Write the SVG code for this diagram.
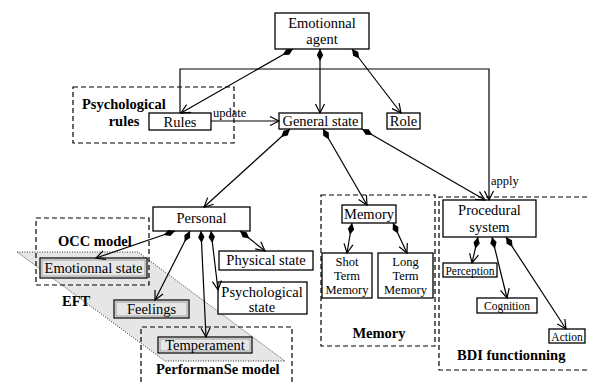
<svg xmlns="http://www.w3.org/2000/svg" width="589" height="382" viewBox="0 0 589 382" font-family="'Liberation Serif', 'Times New Roman', 'DejaVu Serif', serif">
<style>
text{font-family:'Liberation Serif','Times New Roman','DejaVu Serif',serif;fill:#000}
.n{font-size:14.5px;text-anchor:middle}
.s{font-size:12.5px;text-anchor:middle}
.xs{font-size:11.5px;text-anchor:middle}
.b{font-size:14.5px;font-weight:bold}
.lbl{font-size:12.5px}
.box{fill:#fff;stroke:#000;stroke-width:1.3}
.gbox{fill:#e6e6e6;stroke:#000;stroke-width:1.2}
.inner{fill:none;stroke:#777;stroke-width:0.6}
.grp{fill:none;stroke:#000;stroke-width:1.2;stroke-dasharray:5,3}
.c{fill:none;stroke:#000;stroke-width:1.2;marker-start:url(#dia);marker-end:url(#arr)}
.a{fill:none;stroke:#000;stroke-width:1.2;marker-end:url(#arr)}
</style>
<defs>
<marker id="dia" markerUnits="userSpaceOnUse" markerWidth="16" markerHeight="10" viewBox="-1 -5 16 10" refX="0" refY="0" orient="auto">
<path d="M0,0 L6,-3.2 L12,0 L6,3.2 Z" fill="#000"/>
</marker>
<marker id="arr" markerUnits="userSpaceOnUse" markerWidth="14" markerHeight="12" viewBox="-12 -6 14 12" refX="0" refY="0" orient="auto">
<path d="M-9,-4.5 L0,0 L-9,4.5" fill="none" stroke="#000" stroke-width="1.2"/>
</marker>
</defs>

<!-- EFT band -->
<g id="eft">
<polygon points="17,252 138,252 285,361 165,361" fill="#e6e6e6" stroke="#000" stroke-width="0.8" stroke-dasharray="1,1.5"/>
<text class="b" x="62" y="306">EFT</text>
</g>

<!-- group frames -->
<g id="psychological-rules">
<rect class="grp" x="73" y="87" width="161" height="56"/>
<text class="b" x="82" y="109">Psychological</text>
<text class="b" x="124" y="126" text-anchor="middle">rules</text>
</g>
<g id="occ-model">
<rect class="grp" x="36" y="218" width="113" height="67"/>
<text class="b" x="58" y="246">OCC model</text>
</g>
<g id="performanse-model">
<path class="grp" d="M141,390 L141,327 L292,327 L292,390"/>
<text class="b" x="156" y="374">PerformanSe model</text>
</g>
<g id="memory-group">
<rect class="grp" x="321" y="195" width="114" height="151"/>
<text class="b" x="379" y="338" text-anchor="middle">Memory</text>
</g>
<g id="bdi-group">
<path class="grp" d="M595,197 L439,197 L439,370 L595,370"/>
<text class="b" x="457" y="360">BDI functionning</text>
</g>

<!-- nodes -->
<g id="emotionnal-agent">
<rect class="box" x="275" y="13" width="94" height="36"/>
<text class="n" x="322" y="28">Emotionnal</text>
<text class="n" x="322" y="44">agent</text>
</g>
<g id="rules">
<rect class="box" x="149" y="113" width="62" height="17"/>
<text class="n" x="180" y="127">Rules</text>
</g>
<g id="general-state">
<rect class="box" x="279" y="113" width="83" height="16"/>
<text class="n" x="320.5" y="126">General state</text>
</g>
<g id="role">
<rect class="box" x="387" y="113" width="33" height="16"/>
<text class="n" x="403.5" y="126">Role</text>
</g>
<g id="personal">
<rect class="box" x="153" y="207" width="97" height="24"/>
<text class="n" x="201.5" y="223">Personal</text>
</g>
<g id="emotionnal-state">
<rect class="gbox" x="40" y="258" width="107" height="20"/>
<rect class="inner" x="42" y="260" width="103" height="16"/>
<text class="n" x="93.5" y="273">Emotionnal state</text>
</g>
<g id="feelings">
<rect class="gbox" x="114" y="300" width="75" height="18"/>
<rect class="inner" x="116" y="302" width="71" height="14"/>
<text class="n" x="151.5" y="314">Feelings</text>
</g>
<g id="temperament">
<rect class="gbox" x="158" y="337" width="94" height="16"/>
<rect class="inner" x="160" y="339" width="90" height="12"/>
<text class="n" x="205" y="350">Temperament</text>
</g>
<g id="physical-state">
<rect class="box" x="219" y="251" width="94" height="19"/>
<text class="n" x="266" y="265">Physical state</text>
</g>
<g id="psychological-state">
<rect class="box" x="218" y="282" width="89" height="32"/>
<text class="n" x="262" y="297">Psychological</text>
<text class="n" x="262" y="312">state</text>
</g>
<g id="memory">
<rect class="box" x="342" y="205" width="54" height="18"/>
<text class="n" x="369" y="219">Memory</text>
</g>
<g id="short-term-memory">
<rect class="box" x="322" y="253" width="50" height="45"/>
<text class="s" x="347" y="266">Shot</text>
<text class="s" x="347" y="280">Term</text>
<text class="s" x="347" y="294">Memory</text>
</g>
<g id="long-term-memory">
<rect class="box" x="378" y="253" width="55" height="45"/>
<text class="s" x="405.5" y="266">Long</text>
<text class="s" x="405.5" y="280">Term</text>
<text class="s" x="405.5" y="294">Memory</text>
</g>
<g id="procedural-system">
<rect class="box" x="443" y="200" width="93" height="37"/>
<text class="n" x="489.5" y="215">Procedural</text>
<text class="n" x="489.5" y="232">system</text>
</g>
<g id="perception">
<rect class="box" x="443" y="263" width="54" height="14"/>
<text class="xs" x="470" y="274.5">Perception</text>
</g>
<g id="cognition">
<rect class="box" x="477" y="298" width="60" height="15"/>
<text class="xs" x="507" y="310">Cognition</text>
</g>
<g id="action">
<rect class="box" x="549" y="329" width="36" height="14"/>
<text class="xs" x="567" y="341">Action</text>
</g>

<!-- connectors -->
<g id="connectors">
<path class="c" d="M293,49 L181,113"/>
<path class="c" d="M320,49 L320,113"/>
<path class="c" d="M352,49 L401,113"/>
<path class="a" d="M180,113 L180,69 L489,69 L489,200"/>
<path class="a" d="M211,121 L279,121"/>
<path class="c" d="M290,129 L204,207"/>
<path class="c" d="M323,129 L367,205"/>
<path class="c" d="M362,129 L485,200"/>
<path class="c" d="M175,231 L96,258"/>
<path class="c" d="M190,231 L155,300"/>
<path class="c" d="M201,231 L206,337"/>
<path class="c" d="M211,231 L218,290"/>
<path class="c" d="M240,231 L265,251"/>
<path class="c" d="M352,223 L347,253"/>
<path class="c" d="M393,223 L407,253"/>
<path class="c" d="M478,237 L472,263"/>
<path class="c" d="M492,237 L507,298"/>
<path class="c" d="M506,237 L566,329"/>
<text class="lbl" x="213" y="117">update</text>
<text class="lbl" x="491" y="185">apply</text>
</g>
</svg>
